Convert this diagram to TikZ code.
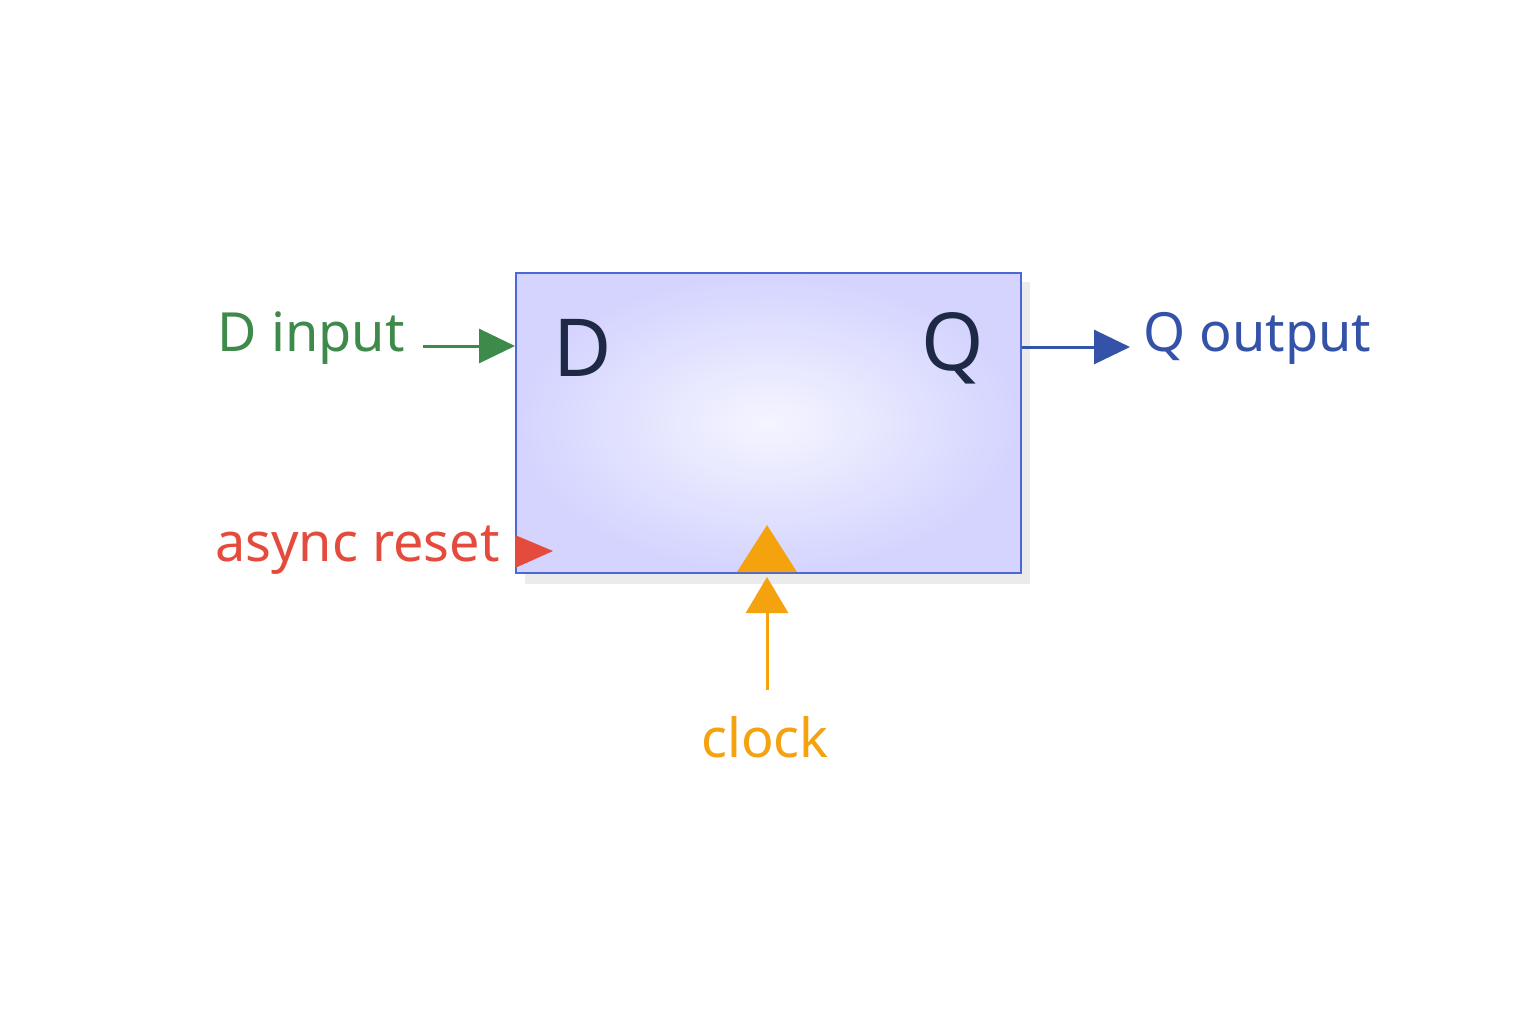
\documentclass[tikz,border=0pt]{standalone}
\usepackage{fontspec}
\setmainfont{Noto Sans}
\usetikzlibrary{arrows.meta}
\definecolor{gr}{HTML}{3E8A4A}
\definecolor{bl}{HTML}{3352A8}
\definecolor{rd}{HTML}{E54B3C}
\definecolor{og}{HTML}{F5A20F}
\definecolor{bx}{HTML}{4A68D8}
\definecolor{ink}{HTML}{1E2A45}
\begin{document}
\begin{tikzpicture}[x=0.5pt,y=-0.5pt,
 lbl/.style={font=\fontsize{27}{30}\selectfont,inner sep=0pt},
 big/.style={font=\fontsize{40}{44}\selectfont,text=ink,inner sep=0pt}]
\useasboundingbox[fill=white] (0,0) rectangle (1536,1024);
\fill[black!8] (525,282) rectangle (1030,584);
\node[draw=bx,line width=1.2pt,inner color=blue!4,outer color=blue!17,minimum width=252.5pt,minimum height=150pt,anchor=north west] (box) at (515,272) {};
\node[big] (D) at (583,348) {D};
\node[big] (Q) at (953,348) {Q};
\node[lbl,text=gr,anchor=east] (din) at (405,338) {D input};
\coordinate (dl) at (423,346);
\draw[gr,line width=1.5pt,-{Triangle[length=18pt,width=17pt]}] (dl) -- (515,346);
\coordinate (qr) at (1022,347);
\coordinate (qe) at (1130,347);
\draw[bl,line width=1.5pt,-{Triangle[length=18pt,width=17pt]}] (qr) -- (qe);
\node[lbl,text=bl,anchor=west] (qout) at (1143,338) {Q output};
\node[lbl,text=rd,anchor=east] (rst) at (500,550) {async reset};
\fill[rd] (515,535) -- (553,551) -- (515,568) -- cycle;
\fill[og] (767,525) -- (797,572) -- (737,572) -- cycle;
\node[lbl,text=og] (clk) at (765,737) {clock};
\coordinate (cb) at (767,690);
\coordinate (ct) at (767,577);
\draw[og,line width=1.5pt,-{Triangle[length=18pt,width=21pt]}] (cb) -- (ct);
\end{tikzpicture}
\end{document}
